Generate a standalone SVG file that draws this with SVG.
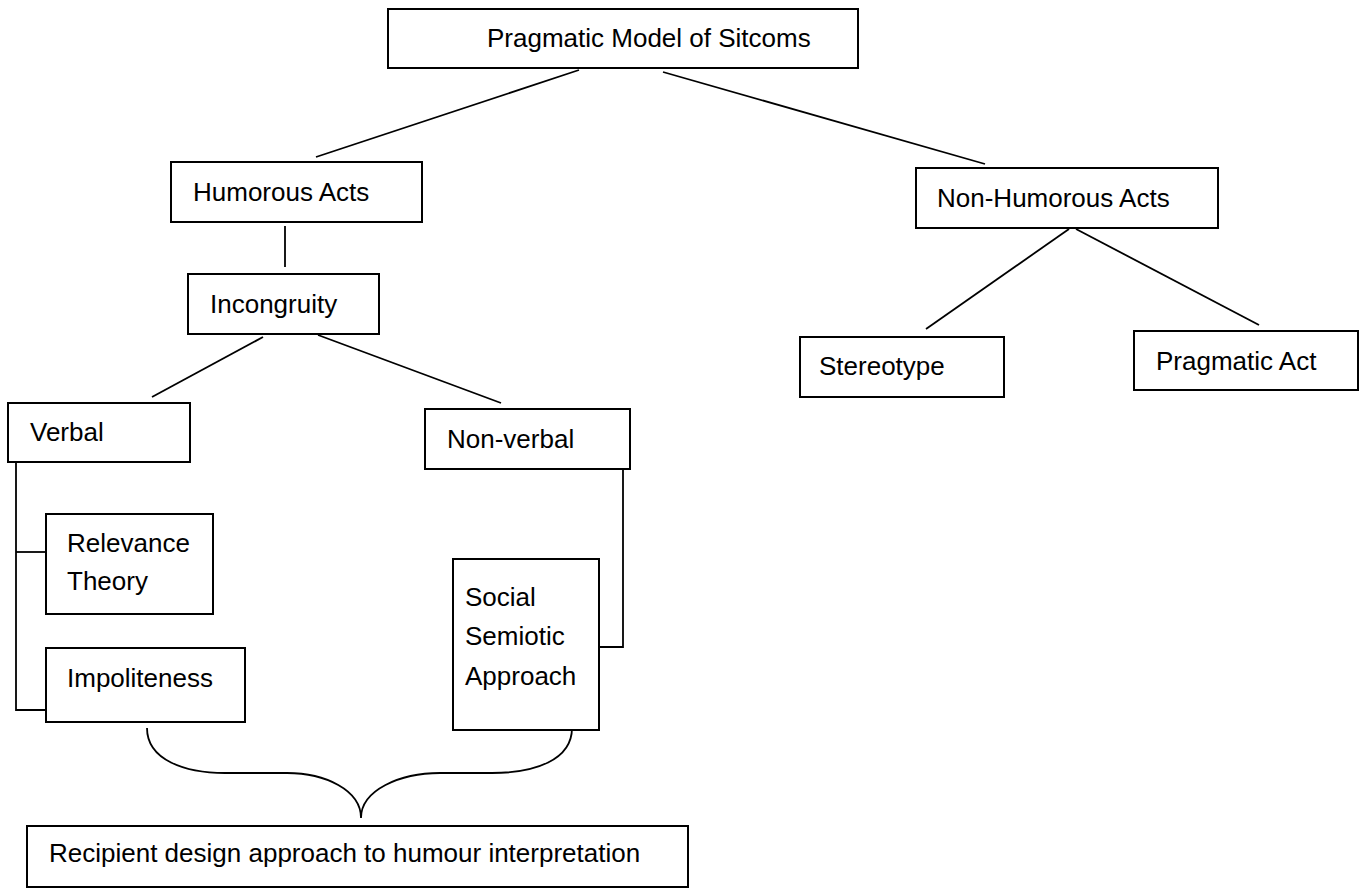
<svg xmlns="http://www.w3.org/2000/svg" width="1364" height="892" viewBox="0 0 1364 892">
<style>
.box{fill:#fff;stroke:#000;stroke-width:2}
.lbl{font-family:"Liberation Sans",Arial,sans-serif;font-size:26px;fill:#000}
.con{fill:none;stroke:#000;stroke-width:1.8}
</style>
<rect width="1364" height="892" fill="#fff"/>
<g id="connectors">
<line class="con" x1="579" y1="70" x2="316" y2="157"/>
<line class="con" x1="663" y1="72" x2="985" y2="164"/>
<line class="con" x1="285" y1="226" x2="285" y2="267"/>
<line class="con" x1="263" y1="337" x2="152" y2="397"/>
<line class="con" x1="318" y1="335" x2="501" y2="403"/>
<line class="con" x1="1069" y1="229" x2="926" y2="329"/>
<line class="con" x1="1076" y1="229" x2="1259" y2="325"/>
<polyline class="con" points="16,462 16,710 46,710"/>
<line class="con" x1="16" y1="552" x2="46" y2="552"/>
<polyline class="con" points="623,468 623,647 600,647"/>
<path class="con" d="M147,728 C147,760 185,773 225,773 L287,773 C325,773 361,790 361,818 C361,790 400,773 440,773 L492,773 C535,773 572,760 572,728"/>
</g>
<g id="n-top"><rect class="box" x="388" y="9" width="470" height="59"/><text class="lbl" x="487" y="47">Pragmatic Model of Sitcoms</text></g>
<g id="n-humorous"><rect class="box" x="171" y="162" width="251" height="60"/><text class="lbl" x="193" y="201">Humorous Acts</text></g>
<g id="n-incongruity"><rect class="box" x="188" y="274" width="191" height="60"/><text class="lbl" x="210" y="313">Incongruity</text></g>
<g id="n-verbal"><rect class="box" x="8" y="403" width="182" height="59"/><text class="lbl" x="30" y="441">Verbal</text></g>
<g id="n-nonverbal"><rect class="box" x="425" y="409" width="205" height="60"/><text class="lbl" x="447" y="448">Non-verbal</text></g>
<g id="n-relevance"><rect class="box" x="46" y="514" width="167" height="100"/><text class="lbl" x="67" y="552">Relevance</text><text class="lbl" x="67" y="590">Theory</text></g>
<g id="n-impoliteness"><rect class="box" x="46" y="648" width="199" height="74"/><text class="lbl" x="67" y="687">Impoliteness</text></g>
<g id="n-social"><rect class="box" x="453" y="559" width="146" height="171"/><text class="lbl" x="465" y="606">Social</text><text class="lbl" x="465" y="645">Semiotic</text><text class="lbl" x="465" y="685">Approach</text></g>
<g id="n-recipient"><rect class="box" x="27" y="826" width="661" height="61"/><text class="lbl" x="49" y="862">Recipient design approach to humour interpretation</text></g>
<g id="n-nonhumorous"><rect class="box" x="916" y="168" width="302" height="60"/><text class="lbl" x="937" y="207">Non-Humorous Acts</text></g>
<g id="n-stereotype"><rect class="box" x="800" y="337" width="204" height="60"/><text class="lbl" x="819" y="375">Stereotype</text></g>
<g id="n-pragact"><rect class="box" x="1134" y="331" width="224" height="59"/><text class="lbl" x="1156" y="370">Pragmatic Act</text></g>
</svg>
